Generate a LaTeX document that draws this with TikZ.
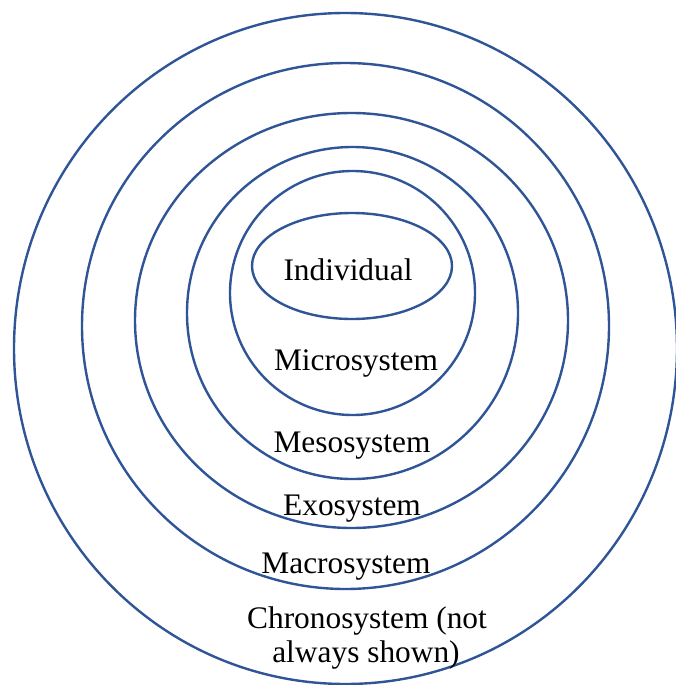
\documentclass[tikz,border=0pt]{standalone}
\usepackage{fontspec}
\setmainfont{Liberation Serif}
\definecolor{ringblue}{RGB}{47,85,151}
\tikzset{
  ring/.style={draw=ringblue, line width=2.4bp},
  lbl/.style={anchor=base, inner sep=0pt, font=\fontsize{31.5}{34}\selectfont, text=black}
}
\begin{document}
\begin{tikzpicture}[x=1bp, y=-1bp]
\useasboundingbox (0,0) rectangle (676,685);
% rings (outer to inner)
\draw[ring] (345.5,348.5) ellipse [x radius=331.5, y radius=335.5];
\draw[ring] (345.5,326) ellipse [x radius=263.5, y radius=263];
\draw[ring] (351.5,320.5) ellipse [x radius=216.5, y radius=207.5];
\draw[ring] (352.5,313) ellipse [x radius=165.5, y radius=166];
\draw[ring] (352.5,293) ellipse [x radius=122.5, y radius=122];
\draw[ring] (352,266) ellipse [x radius=100, y radius=53];
% labels
\node[lbl] (individual) at (348,280) {Individual};
\node[lbl] (micro) at (356,370) {Microsystem};
\node[lbl] (meso) at (352,452) {Mesosystem};
\node[lbl] (exo) at (352,515) {Exosystem};
\node[lbl] (macro) at (346,573) {Macrosystem};
\node[lbl] (chrono1) at (367,628) {Chronosystem (not};
\node[lbl] (chrono2) at (366,662) {always shown)};
\end{tikzpicture}
\end{document}
